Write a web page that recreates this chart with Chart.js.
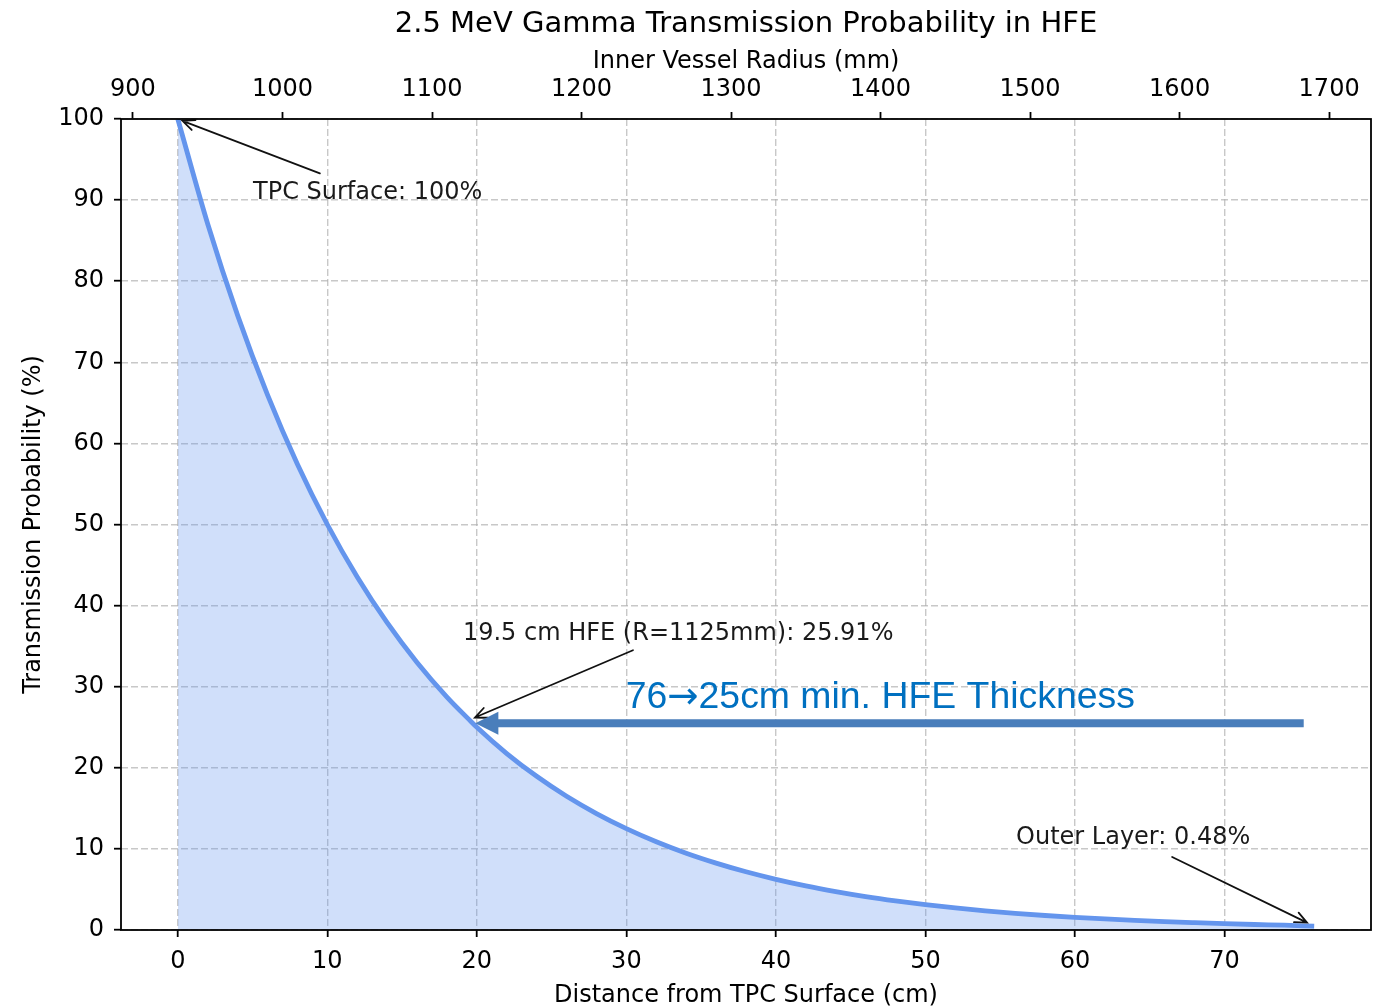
<!DOCTYPE html>
<html>
<head>
<meta charset="utf-8">
<title>2.5 MeV Gamma Transmission Probability in HFE</title>
<script src="https://cdn.jsdelivr.net/npm/chart.js@4.4.1/dist/chart.umd.min.js"></script>
<style>
  html, body { margin: 0; padding: 0; background: #ffffff; }
  canvas { display: block; }
</style>
</head>
<body>
<canvas id="chart" width="1384" height="1007"></canvas>
<script>
// Distance from the TPC surface (cm) and the transmitted fraction (%) at that depth
const distanceCm = [0, 2, 4, 6, 8, 10, 12, 14, 16, 18, 19.5, 20, 22, 24, 26, 28, 30, 32, 34, 36,
  38, 40, 42, 44, 46, 48, 50, 52, 54, 56, 58, 60, 62, 64, 66, 68, 70, 72, 74, 76];
const transmissionPct = [100, 87.06, 75.79, 65.98, 57.43, 50.0, 43.53, 37.89, 32.99, 28.72, 25.91, 25.0,
  21.76, 18.95, 16.49, 14.36, 12.5, 10.88, 9.47, 8.25, 7.18, 6.25, 5.44, 4.74, 4.12, 3.59, 3.13,
  2.72, 2.37, 2.06, 1.79, 1.56, 1.36, 1.18, 1.03, 0.9, 0.78, 0.68, 0.59, 0.48];

// Tick labels
const distanceTicks = [0, 10, 20, 30, 40, 50, 60, 70];
const radiusTicks = [900, 1000, 1100, 1200, 1300, 1400, 1500, 1600, 1700];
const probabilityTicks = [0, 10, 20, 30, 40, 50, 60, 70, 80, 90, 100];

// Inner vessel radius (mm) = TPC radius + distance
const tpcRadiusMm = 930;
const distanceMin = -3.8, distanceMax = 79.8;

const FONT = '"DejaVu Sans", "Liberation Sans", sans-serif';
const TITLE_SIZE = 29, TITLE_PAD_TOP = 7;

// Callouts: the marked point is taken from the series itself
function pointAt(d) {
  const i = distanceCm.indexOf(d);
  return [distanceCm[i], transmissionPct[i]];
}
const callouts = [
  { text: 'TPC Surface: ' + pointAt(0)[1] + '%', at: pointAt(0), textAt: [5.03, 90.1], tail: [9.5, 93.3], shrink: 5 },
  { text: '19.5 cm HFE (R=' + (tpcRadiusMm + 10 * 19.5) + 'mm): ' + pointAt(19.5)[1].toFixed(2) + '%', at: pointAt(19.5), textAt: [19.07, 35.8], tail: [30.44, 34.5], shrink: 6 },
  { text: 'Outer Layer: ' + pointAt(76)[1].toFixed(2) + '%', at: pointAt(76), textAt: [56.06, 10.6], tail: [66.5, 9.0], shrink: 8 }
];

// Highlight arrow across the plot; the text is drawn in pieces so the arrow sign can use its own font
const highlight = {
  parts: [
    { text: '76', font: '37.4px "Liberation Sans", Arial, sans-serif' },
    { text: '\u2192', font: '37.4px "DejaVu Sans", sans-serif' },
    { text: '25cm min. HFE Thickness', font: '37.4px "Liberation Sans", Arial, sans-serif' }
  ],
  textAt: [29.95, 27.4], from: [75.3, 25.5], to: [19.9, 25.5]
};

const overlayPlugin = {
  id: 'overlays',
  afterDatasetsDraw(chart) {
    const ctx = chart.ctx;
    const xs = chart.scales.x, ys = chart.scales.y;
    const px = v => xs.getPixelForValue(v), py = v => ys.getPixelForValue(v);
    ctx.save();

    // callout annotations with open arrow heads
    ctx.font = '24px ' + FONT;
    ctx.textBaseline = 'alphabetic';
    ctx.textAlign = 'left';
    for (const c of callouts) {
      ctx.fillStyle = '#1a1a1a';
      ctx.fillText(c.text, px(c.textAt[0]), py(c.textAt[1]));
      const tx = px(c.tail[0]), ty = py(c.tail[1]);
      let hx = px(c.at[0]), hy = py(c.at[1]);
      const ang = Math.atan2(hy - ty, hx - tx);
      hx -= Math.cos(ang) * c.shrink;
      hy -= Math.sin(ang) * c.shrink;
      ctx.strokeStyle = '#111111';
      ctx.lineWidth = 1.8;
      ctx.lineCap = 'round';
      ctx.beginPath();
      ctx.moveTo(tx, ty);
      ctx.lineTo(hx, hy);
      const hl = 13, ha = 0.42;
      ctx.moveTo(hx - hl * Math.cos(ang - ha), hy - hl * Math.sin(ang - ha));
      ctx.lineTo(hx, hy);
      ctx.lineTo(hx - hl * Math.cos(ang + ha), hy - hl * Math.sin(ang + ha));
      ctx.stroke();
    }

    // thick block arrow
    const x0 = px(highlight.from[0]), x1 = px(highlight.to[0]), ya = py(highlight.from[1]);
    const shaft = 4, headLen = 23, headHalf = 11.5;
    ctx.fillStyle = '#4a7ebb';
    ctx.beginPath();
    ctx.moveTo(x0, ya - shaft);
    ctx.lineTo(x1 + headLen, ya - shaft);
    ctx.lineTo(x1 + headLen, ya - headHalf);
    ctx.lineTo(x1, ya);
    ctx.lineTo(x1 + headLen, ya + headHalf);
    ctx.lineTo(x1 + headLen, ya + shaft);
    ctx.lineTo(x0, ya + shaft);
    ctx.closePath();
    ctx.fill();

    ctx.fillStyle = '#0070c0';
    let cx = px(highlight.textAt[0]);
    const cy = py(highlight.textAt[1]);
    for (const p of highlight.parts) {
      ctx.font = p.font;
      ctx.fillText(p.text, cx, cy);
      cx += ctx.measureText(p.text).width;
    }
    ctx.restore();
  },
  afterDraw(chart) {
    // plot frame
    const a = chart.chartArea, ctx = chart.ctx;
    ctx.save();
    ctx.strokeStyle = '#000000';
    ctx.lineWidth = 1.8;
    ctx.strokeRect(a.left, a.top, a.right - a.left, a.bottom - a.top);
    ctx.restore();
  }
};

const gridDash = [7, 3];
const tickFont = { family: FONT, size: 24 };
const titleFont = { family: FONT, size: 24 };

new Chart(document.getElementById('chart'), {
  type: 'line',
  data: {
    datasets: [{
      data: distanceCm.map((d, i) => ({ x: d, y: transmissionPct[i] })),
      borderColor: '#6495ed',
      borderWidth: 4.8,
      backgroundColor: 'rgba(100,149,237,0.3)',
      fill: 'origin',
      pointRadius: 0,
      pointHoverRadius: 0,
      cubicInterpolationMode: 'monotone',
      xAxisID: 'x',
      yAxisID: 'y'
    }]
  },
  options: {
    responsive: false,
    animation: false,
    devicePixelRatio: 1,
    layout: { padding: { left: 0, right: 13, top: 0, bottom: 0 } },
    plugins: {
      legend: { display: false },
      tooltip: { enabled: false },
      title: {
        display: true,
        fullSize: false,
        text: '2.5 MeV Gamma Transmission Probability in HFE',
        color: '#000000',
        font: { family: FONT, size: TITLE_SIZE, weight: 'normal', lineHeight: 1.2 },
        padding: { top: TITLE_PAD_TOP, bottom: 0 }
      }
    },
    scales: {
      x: {
        type: 'linear',
        position: 'bottom',
        min: distanceMin,
        max: distanceMax,
        afterBuildTicks: s => { s.ticks = distanceTicks.map(v => ({ value: v })); },
        afterFit: s => { s.height = 77; },
        ticks: { color: '#000000', font: tickFont, padding: 10, maxRotation: 0, callback: v => String(v) },
        grid: { color: 'rgba(176,176,176,0.7)', lineWidth: 1.4, tickColor: '#000000', tickWidth: 1.8, tickLength: 7 },
        border: { display: false, dash: gridDash },
        title: { display: true, text: 'Distance from TPC Surface (cm)', color: '#000000', font: { family: FONT, size: 24, lineHeight: 0.95 }, padding: { top: 0, bottom: 0 } }
      },
      x2: {
        type: 'linear',
        position: 'top',
        min: tpcRadiusMm + 10 * distanceMin,
        max: tpcRadiusMm + 10 * distanceMax,
        afterBuildTicks: s => { s.ticks = radiusTicks.map(v => ({ value: v })); },
        afterFit: s => { s.height = 119 - (TITLE_SIZE * 1.2 + TITLE_PAD_TOP); },
        ticks: { color: '#000000', font: tickFont, padding: 8, maxRotation: 0, callback: v => String(v) },
        grid: { drawOnChartArea: false, tickColor: '#000000', tickWidth: 1.8, tickLength: 7 },
        border: { display: false },
        title: { display: true, text: 'Inner Vessel Radius (mm)', color: '#000000', font: titleFont, padding: { top: 6, bottom: 0 } }
      },
      y: {
        type: 'linear',
        position: 'left',
        min: 0,
        max: 100,
        afterBuildTicks: s => { s.ticks = probabilityTicks.map(v => ({ value: v })); },
        afterFit: s => { s.width = 121; },
        ticks: { color: '#000000', font: tickFont, padding: 10, callback: v => String(v) },
        grid: { color: 'rgba(176,176,176,0.7)', lineWidth: 1.4, tickColor: '#000000', tickWidth: 1.8, tickLength: 7 },
        border: { display: false, dash: gridDash },
        title: { display: true, text: 'Transmission Probability (%)', color: '#000000', font: titleFont, padding: { top: 19, bottom: 0 } }
      }
    }
  },
  plugins: [overlayPlugin]
});
</script>
</body>
</html>
